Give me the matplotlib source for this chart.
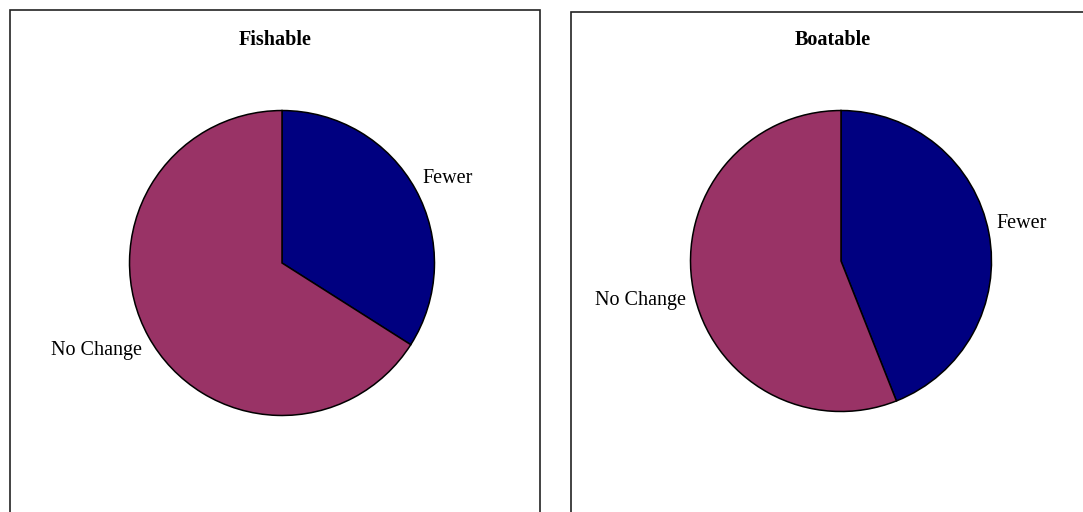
import matplotlib
matplotlib.use("Agg")
import matplotlib.pyplot as plt
from matplotlib.patches import Rectangle

plt.rcParams["font.family"] = ["Liberation Serif", "DejaVu Serif"]

# ---- Data ----
categories = ["Fewer", "No Change"]
fishable = [34, 66]
boatable = [44, 56]
colors = ["#000080", "#993366"]

W, H = 1083, 512
fig = plt.figure(figsize=(W / 100, H / 100), dpi=100)
fig.patch.set_facecolor("white")


def px_axes(cx, cy, r):
    # axes box (pixel coords, top-left origin) -> figure fraction
    return fig.add_axes([(cx - r) / W, (H - cy - r) / H, 2 * r / W, 2 * r / H])


panels = [
    ("Fishable", fishable, (282, 263, 154), (10, 540, 10), 275),
    ("Boatable", boatable, (841, 261, 152), (571, 1090, 12), 833),
]
# small vertical nudges so labels sit like the original (Excel) layout
label_nudge = [0.05, -0.065]

for title, vals, (cx, cy, r), (x0, x1, top), tx in panels:
    # panel frame (runs off the bottom of the image)
    fig.add_artist(Rectangle((x0 / W, -0.05), (x1 - x0) / W, (H - top) / H + 0.05,
                             transform=fig.transFigure, fill=False,
                             edgecolor="#222222", linewidth=1.2))
    fig.text(tx / W, 1 - 40 / H, title, ha="center", va="center",
             fontsize=14.5, fontweight="bold")

    ax = px_axes(cx, cy, r)
    wedges, texts = ax.pie(vals, labels=categories, colors=colors, startangle=90,
                           counterclock=False, labeldistance=1.05, radius=1,
                           wedgeprops={"edgecolor": "black", "linewidth": 1.1},
                           textprops={"fontsize": 14.5})
    for t, dy in zip(texts, label_nudge):
        x, y = t.get_position()
        t.set_position((x, y + dy))
    ax.set_xlim(-1.01, 1.01)
    ax.set_ylim(-1.01, 1.01)
    ax.set_aspect("equal")
    ax.axis("off")

fig.savefig("out.png", dpi=100, facecolor="white")
